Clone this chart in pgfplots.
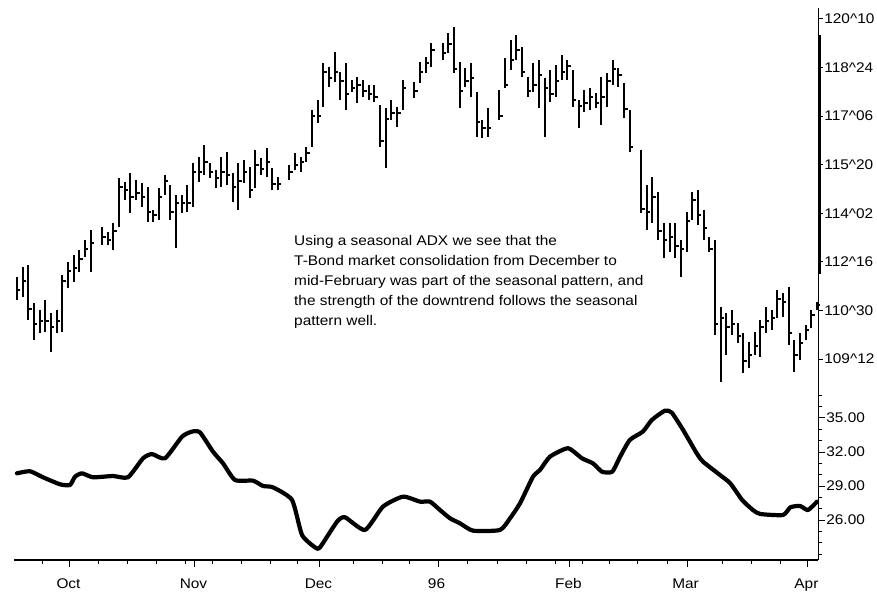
\documentclass[border=0pt]{standalone}
\usepackage{fontspec}
\setmainfont{Liberation Sans}[FakeStretch=1.1]
\usepackage{pgfplots}
\pgfplotsset{compat=1.18}
\usepackage{pgfplotstable}

% daily T-Bond bars: trading-day index, high, low, close
\pgfplotstableread{
k h l c
0 112.01 111.27 111.6
1 112.34 111.37 111.9
2 112.40 110.63 111.0
3 111.18 109.99 110.5
4 110.95 110.21 110.6
5 111.27 110.25 110.6
6 110.86 109.60 110.4
7 110.95 110.21 110.6
8 112.08 110.25 111.9
9 112.50 111.66 112.2
10 112.72 111.85 112.3
11 112.88 112.17 112.6
12 113.20 112.66 112.9
13 113.53 112.17 113.1
15 113.62 113.04 113.3
16 113.46 113.04 113.2
17 113.75 112.88 113.5
18 115.20 113.62 114.9
19 115.07 114.49 114.8
20 115.36 114.07 114.6
21 115.13 114.49 114.7
22 115.04 114.27 114.6
23 114.91 113.78 114.1
24 114.17 113.78 114.0
25 114.88 113.85 114.6
26 115.29 114.65 115.1
27 114.97 113.85 114.1
28 114.65 112.95 114.4
29 114.65 114.07 114.4
30 114.97 114.10 114.4
31 115.68 114.27 115.4
32 115.87 115.07 115.4
33 116.26 115.29 115.7
34 115.68 115.20 115.4
35 115.45 114.88 115.2
36 115.87 114.91 115.4
37 116.03 114.97 115.3
38 115.36 114.43 114.9
39 115.68 114.17 115.1
40 115.78 115.04 115.4
41 115.55 114.55 114.8
42 116.10 114.88 115.6
43 115.84 115.29 115.5
44 116.16 115.23 115.7
45 115.52 114.81 115.0
46 115.23 114.81 115.0
48 115.62 115.13 115.4
49 116.00 115.45 115.6
50 115.87 115.39 115.7
51 116.19 115.71 116.0
52 117.38 116.19 117.2
53 117.70 116.97 117.2
54 118.89 117.48 118.6
55 118.77 118.12 118.4
56 119.25 118.28 118.6
57 118.61 117.70 118.3
58 118.89 117.38 117.9
59 118.35 117.96 118.1
60 118.44 117.61 118.2
61 118.35 117.80 118.0
62 118.19 117.70 117.9
63 118.19 117.64 117.8
64 117.54 116.19 116.4
65 117.45 115.52 117.1
66 117.70 117.06 117.3
67 117.48 116.84 117.3
68 118.35 117.38 118.1
70 118.28 117.77 118.0
71 118.93 118.25 118.6
72 119.09 118.57 118.9
73 119.54 118.77 119.3
75 119.54 118.99 119.2
76 119.86 119.22 119.5
77 120.05 118.57 118.7
78 118.93 117.45 118.0
79 118.73 118.12 118.3
80 118.89 117.80 118.4
81 117.96 116.52 117.0
82 117.06 116.48 116.8
83 117.45 116.52 116.8
85 118.03 117.06 117.2
86 119.05 118.09 118.2
87 119.63 118.67 119.0
88 119.79 118.99 119.3
89 119.41 118.44 118.6
90 118.44 117.80 118.0
91 118.89 117.96 118.2
92 118.99 117.45 118.5
93 118.41 116.52 118.1
94 118.67 117.64 117.9
95 118.83 117.80 118.3
96 119.15 118.35 118.6
97 118.99 118.35 118.8
98 118.67 117.48 117.7
99 117.70 116.80 117.5
100 118.03 117.32 117.6
101 118.09 117.38 117.8
102 117.93 117.45 117.6
103 118.44 116.90 117.8
104 118.57 117.48 118.3
105 118.99 118.19 118.7
106 118.73 118.12 118.5
107 118.25 117.13 117.4
108 117.38 116.03 116.2
110 116.10 114.07 114.2
111 114.97 113.53 114.1
112 115.23 113.75 114.6
113 114.75 113.20 113.5
114 113.75 112.63 113.2
115 113.75 112.82 113.3
116 113.75 112.63 113.0
117 113.20 112.01 112.9
118 114.10 112.82 113.8
119 114.75 113.85 114.5
120 114.81 113.69 114.0
121 114.17 113.20 113.6
122 113.30 112.82 112.9
123 113.20 110.15 110.5
124 111.05 108.64 110.7
125 110.86 109.51 110.4
126 110.95 110.15 110.5
127 110.54 109.89 110.1
128 110.21 108.93 109.3
129 109.92 109.09 109.5
130 110.25 109.51 109.8
131 110.63 109.44 110.4
132 111.05 110.21 110.6
133 110.95 110.31 110.7
134 111.60 110.70 111.3
135 111.50 110.73 111.2
136 111.69 109.83 110.2
137 109.99 108.96 109.5
138 110.21 109.35 109.9
139 110.47 109.99 110.3
140 110.95 110.37 110.8
141 111.21 110.95 111.1
}\bars

% seasonal ADX
\pgfplotstableread{
k v
0 30.12
2.29 30.30
4.58 29.77
7.58 29.15
9.34 29.09
10.22 29.82
11.46 30.12
13.39 29.77
16.92 29.88
19.56 29.77
22.21 31.44
23.79 31.82
26.08 31.44
29.08 33.35
30.84 33.80
32.25 33.73
34.54 32.03
36.31 31.00
38.42 29.53
41.59 29.47
43.36 29.00
45.12 28.88
48.47 27.77
50.23 24.68
52.52 23.59
53.40 23.59
56.40 25.85
57.80 26.24
61.33 25.12
64.50 27.18
68.03 28.06
71.03 27.62
72.79 27.62
74.55 26.88
76.31 26.15
78.07 25.71
80.37 25.06
85.12 25.12
86.89 26.15
88.65 27.47
90.94 29.82
92.17 30.41
93.94 31.59
97.11 32.33
99.58 31.44
101.5 31.00
103.1 30.26
104.9 30.26
106.3 31.59
108.0 33.06
110.3 33.80
111.9 34.83
114.2 35.65
115.4 35.47
117.4 33.94
119.8 31.88
120.9 31.15
123.9 29.97
125.7 29.24
127.8 27.77
129.7 26.88
131.0 26.53
135.0 26.44
136.3 27.12
138.0 27.24
139.4 26.88
141.0 27.62
}\adx

\pgfplotsset{
  every tick label/.append style={font=\fontsize{14}{16}\selectfont},
  /pgf/number format/assume math mode=true,
}

\begin{document}
\begin{tikzpicture}
\useasboundingbox (0,0) rectangle (877pt,-594pt);

% ---------- price panel ----------
\begin{axis}[
  at={(14.16pt,-8pt)}, anchor=north west,
  scale only axis, width=804pt, height=382pt,
  xmin=-0.5, xmax=141.2, ymin=108.38, ymax=120.66,
  axis x line=none, axis y line*=right,
  xtick=\empty,
  ytick={109.375,110.9375,112.5,114.0625,115.625,117.1875,118.75,120.3125},
  yticklabels={109\textasciicircum 12,110\textasciicircum 30,112\textasciicircum 16,114\textasciicircum 02,115\textasciicircum 20,117\textasciicircum 06,118\textasciicircum 24,120\textasciicircum 10},
  tick align=outside, major tick length=5pt,
  axis line style={line width=1.2pt}, tick style={line width=1pt, black},
  yticklabel style={inner sep=1pt},
  clip=false,
]
\addplot[draw=none, mark=none,
  error bars/.cd, y dir=both, y explicit, x dir=plus, x fixed=0.6,
  error mark=none, error bar style={draw=black, line width=2pt}]
  table[x=k, y=c, y error plus expr=\thisrow{h}-\thisrow{c}, y error minus expr=\thisrow{c}-\thisrow{l}] {\bars};
\addplot[black, line width=3pt, forget plot] coordinates {(141.35,119.80) (141.35,112.10)};
\node[anchor=north west, align=left, inner sep=0pt, font=\fontsize{14}{20}\selectfont]
  at (axis cs:48.82,113.36)
  {Using a seasonal ADX we see that the\\
   T-Bond market consolidation from December to\\
   mid-February was part of the seasonal pattern, and\\
   the strength of the downtrend follows the seasonal\\
   pattern well.};
\end{axis}

% ---------- ADX panel ----------
\begin{axis}[
  at={(14.16pt,-390pt)}, anchor=north west,
  scale only axis, width=804pt, height=170pt,
  xmin=-0.5, xmax=141.2, ymin=22.47, ymax=37.47,
  axis x line*=bottom, axis y line*=right,
  xtick={9.34,31.37,53.4,74.2,97.46,118.1,139.4},
  xticklabels={Oct,Nov,Dec,96,Feb,Mar,Apr},
  minor xtick={4.58,14.28,19.39,24.67,29.61,34.54,39.65,44.59,49.52,59.22,64.33,69.26,79.31,84.6,89.88,94.82,99.58,104.5,109.4,114.6,124.4,129.5,134.5},
  ytick={26,29,32,35},
  yticklabels={26.00,29.00,32.00,35.00},
  minor ytick={23,24,25,27,28,30,31,33,34,36,37},
  tick align=outside, major tick length=7pt, minor tick length=4pt,
  axis line style={line width=1.2pt}, tick style={line width=1pt, black},
  yticklabel style={inner sep=1pt},
  xticklabel style={yshift=-8pt, xshift=-1.5pt},
  clip=false,
]
\addplot[black, line width=4.2pt, line join=round, line cap=round, smooth, tension=0.35] table[x=k, y=v] {\adx};
\end{axis}
\end{tikzpicture}
\end{document}
